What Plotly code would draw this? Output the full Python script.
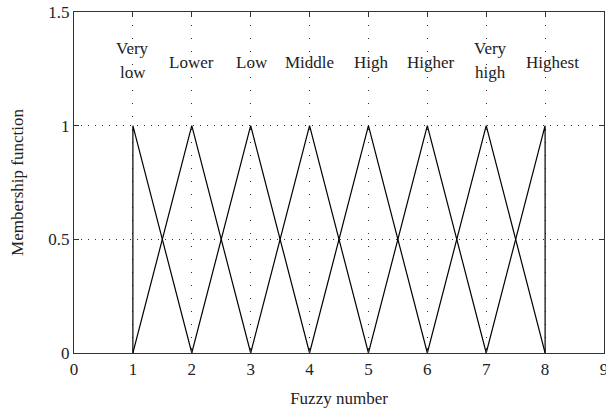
import plotly.graph_objects as go

# Membership function definitions (triangles: left, peak, right)
mf_names = ["Very low", "Lower", "Low", "Middle", "High", "Higher", "Very high", "Highest"]
mf_left = [1, 1, 2, 3, 4, 5, 6, 7]
mf_peak = [1, 2, 3, 4, 5, 6, 7, 8]
mf_right = [2, 3, 4, 5, 6, 7, 8, 8]

# Label lines and their positions
label_lines = [["Very", "low"], ["Lower"], ["Low"], ["Middle"], ["High"], ["Higher"], ["Very", "high"], ["Highest"]]
label_x = [1.0, 2.0, 3.02, 4.0, 5.06, 6.06, 7.08, 8.13]

x_ticks = [0, 1, 2, 3, 4, 5, 6, 7, 8, 9]
y_ticks = [0, 0.5, 1, 1.5]
y_tick_text = ["0", "0.5", "1", "1.5"]

FONT = "Liberation Serif, Times New Roman, serif"
FS = 17

fig = go.Figure()
for l, p, r in zip(mf_left, mf_peak, mf_right):
    fig.add_trace(go.Scatter(x=[l, p, r], y=[0, 1, 0], mode="lines",
                             line=dict(color="black", width=1.2), showlegend=False,
                             hoverinfo="skip", cliponaxis=False))

for lines, lx in zip(label_lines, label_x):
    if len(lines) == 1:
        ys = [1.28]
    else:
        ys = [1.34, 1.235]
    for t, yy in zip(lines, ys):
        fig.add_annotation(x=lx, y=yy, text=t, showarrow=False,
                           font=dict(family=FONT, size=FS, color="#222"),
                           xanchor="center", yanchor="middle")

axis_common = dict(showline=True, linecolor="#333", linewidth=1.3, mirror="ticks",
                   ticks="inside", ticklen=5, tickcolor="#333", zeroline=False,
                   showgrid=True, gridcolor="#333", gridwidth=1, automargin=False,
                   ticklabeloverflow="allow",
                   tickfont=dict(family=FONT, size=FS, color="#222"))

fig.update_xaxes(range=[0, 9], tickvals=x_ticks, griddash="1px,12px",
                 title=dict(text="Fuzzy number", font=dict(family=FONT, size=FS, color="#222"), standoff=14),
                 **axis_common)
fig.update_yaxes(range=[0, 1.5], tickvals=y_ticks, ticktext=y_tick_text, griddash="1px,6px",
                 title=dict(text="Membership function", font=dict(family=FONT, size=FS, color="#222"), standoff=20),
                 **axis_common)

fig.update_layout(width=606, height=419, margin=dict(l=74, r=2, t=12, b=66),
                  plot_bgcolor="white", paper_bgcolor="white")

fig.write_html("out.html", config={"displayModeBar": False},
               post_script="document.body.style.margin='0';document.body.style.overflow='hidden';")
